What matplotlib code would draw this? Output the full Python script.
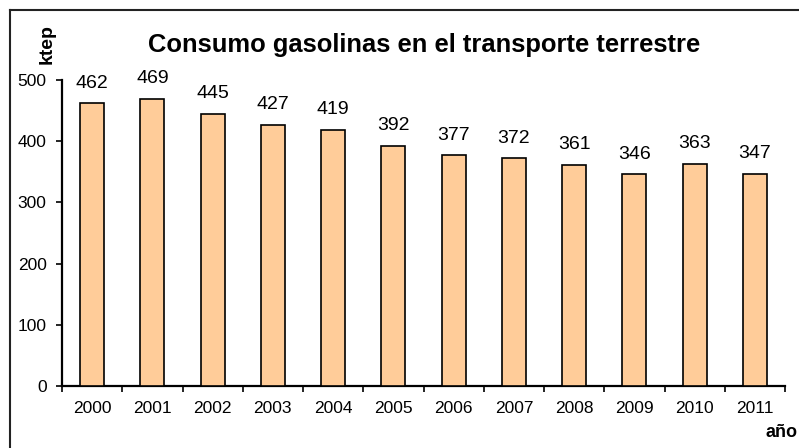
import matplotlib
matplotlib.use("Agg")
import matplotlib.pyplot as plt
from matplotlib.lines import Line2D
import numpy as np

plt.rcParams['font.family'] = ['Liberation Sans', 'DejaVu Sans']

years = ['2000', '2001', '2002', '2003', '2004', '2005', '2006', '2007', '2008', '2009', '2010', '2011']
values = [462, 469, 445, 427, 419, 392, 377, 372, 361, 346, 363, 347]
title = 'Consumo gasolinas en el transporte terrestre'
ylabel = 'ktep'
xlabel = 'año'
yticks = [0, 100, 200, 300, 400, 500]

W, H = 799, 448
fig = plt.figure(figsize=(W / 100, H / 100), dpi=100)
ax = fig.add_axes([62 / W, 1 - 386 / H, (785 - 62) / W, (386 - 80) / H])

x = np.arange(len(years))
ax.bar(x, values, width=0.4, color='#FFCC99', edgecolor='black', linewidth=1.2, zorder=3)
for xi, v in zip(x, values):
    ax.text(xi, v + 19, str(v), ha='center', va='bottom', fontsize=14)

ax.set_xlim(-0.5, len(years) - 0.5)
ax.set_ylim(0, 500)
ax.set_yticks(yticks)
ax.set_yticklabels([str(t) for t in yticks], fontsize=12.5)
ax.set_xticks(x)
ax.set_xticklabels(years, fontsize=12.5)
ax.tick_params(axis='x', which='major', length=0, pad=11)
ax.set_xticks(np.arange(-0.5, len(years)), minor=True)
ax.tick_params(axis='x', which='minor', length=4, width=1.2, direction='out')
ax.tick_params(axis='y', length=4, width=1.2, direction='out', pad=7)
for s in ['top', 'right']:
    ax.spines[s].set_visible(False)
for s in ['left', 'bottom']:
    ax.spines[s].set_linewidth(1.6)

fig.text(424 / W, 1 - 45 / H, title, ha='center', va='center', fontsize=18.4, fontweight='bold')
fig.text(47 / W, 1 - 44 / H, ylabel, ha='center', va='center', rotation=90, fontsize=14, fontweight='bold')
fig.text(781 / W, 1 - 432 / H, xlabel, ha='center', va='center', fontsize=13, fontweight='bold')

# outer frame (left and top edges visible)
fig.add_artist(Line2D([9.5 / W, 9.5 / W], [0, 1 - 10.5 / H], transform=fig.transFigure, color='#222222', lw=1.5))
fig.add_artist(Line2D([9.5 / W, 798 / W], [1 - 10.5 / H, 1 - 10.5 / H], transform=fig.transFigure, color='#222222', lw=1.5))

fig.savefig('out.png', dpi=100)
